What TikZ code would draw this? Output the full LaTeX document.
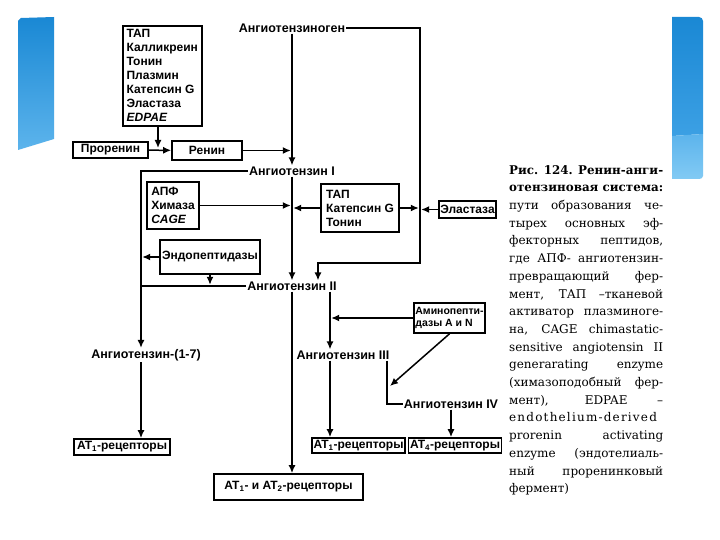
\documentclass[tikz,border=0pt]{standalone}
\usepackage{fontspec}
\usepackage{graphicx}
\setmainfont{Liberation Sans}
\newfontfamily\capfont{DejaVu Serif}
\usetikzlibrary{arrows.meta}
\definecolor{bltop}{RGB}{26,136,212}
\definecolor{blbot}{RGB}{92,180,236}
\definecolor{blmid}{RGB}{60,160,228}
\definecolor{bllow}{RGB}{130,202,244}
\newsavebox\jlbox
\newcommand\jl[1]{\sbox\jlbox{#1}\ifdim\wd\jlbox>154pt \resizebox{154pt}{\height}{\usebox\jlbox}\else\hbox to 154pt{\spaceskip=0.3em plus 1fil\relax #1}\fi}
\begin{document}
\begin{tikzpicture}[x=1pt,y=-1pt,
  box/.style={draw, line width=1.6pt, inner sep=1.5pt, font=\bfseries\fontsize{12}{14}\selectfont},
  lbl/.style={inner sep=1pt, font=\bfseries\fontsize{12.5}{14}\selectfont},
  thk/.style={line width=2.4pt},
  thn/.style={line width=1.5pt},
  arr/.style={-{Latex[length=8pt,width=7pt]}},
  sh/.style={shorten >=1.2pt}
]
\useasboundingbox[fill=white] (0,0) rectangle (720,540);
% blue decorations
\shade[top color=bltop, bottom color=blbot] (18,150) -- (18,21) -- (21,18) -- (54,17) -- (54,139) -- cycle;
\shade[top color=bltop, bottom color=blmid] (672,17) -- (699,17) to[out=0,in=90] (703,21) -- (703,134) -- (672,136) -- cycle;
\shade[top color=blbot, bottom color=bllow] (672,136) -- (703,134) -- (703,176) to[out=-90,in=0] (699,179) -- (672,179) -- cycle;
% nodes
\node[box, align=left, minimum width=79pt, minimum height=100pt, anchor=north west] (enz) at (122,25)
  {ТАП\\Калликреин\\Тонин\\Плазмин\\Катепсин G\\Эластаза\\\textit{EDPAE}};
\node[lbl] (agen) at (292,28) {Ангиотензиноген};
\node[box, minimum width=75pt, minimum height=16pt] (pro) at (110.5,150) {Проренин};
\node[box, minimum width=70pt, minimum height=19pt] (ren) at (207,150.5) {Ренин};
\node[lbl] (ang1) at (292,171) {Ангиотензин I};
\node[box, align=left, minimum width=52pt, minimum height=47pt] (apf) at (173,205.5) {АПФ\\Химаза\\\textit{CAGE}};
\node[box, align=left, minimum width=78pt, minimum height=48pt] (tap) at (360,208) {ТАП\\Катепсин G\\Тонин};
\node[box, minimum width=57pt, minimum height=17pt] (el) at (467.5,209.5) {Эластаза};
\node[box, minimum width=100pt, minimum height=34pt] (endo) at (210,257) {Эндопептидазы};
\node[lbl] (ang2) at (292,286) {Ангиотензин II};
\node[lbl] (a17) at (146,355) {Ангиотензин-(1-7)};
\node[lbl] (ang3) at (343,355) {Ангиотензин III};
\node[box, align=left, minimum width=71pt, minimum height=30pt, font=\bfseries\fontsize{10.5}{12.5}\selectfont] (am) at (449.5,318) {Аминопепти-\\дазы A и N};
\node[lbl] (ang4) at (451,404) {Ангиотензин IV};
\node[box, minimum width=96pt, minimum height=16pt] (at17) at (122,447) {AT\textsubscript{1}-рецепторы};
\node[box, minimum width=89pt, minimum height=15pt] (at1) at (358.5,445.5) {AT\textsubscript{1}-рецепторы};
\node[box, minimum width=86pt, minimum height=15pt] (at4) at (455,445.5) {AT\textsubscript{4}-рецепторы};
\node[box, minimum width=149pt, minimum height=26pt] (at12) at (288.5,487) {AT\textsubscript{1}- и AT\textsubscript{2}-рецепторы};
% helper coordinates
\coordinate (lft) at (141,0);
\coordinate (rr) at (420,0);
\coordinate (c2) at (318,263);
\coordinate (j1) at (158,148);
\coordinate (v3) at (330,0);
\coordinate (v4) at (387,0);
\coordinate (d1) at (390,386);
% connectors
\draw[thk,arr] (agen) -- (ang1);
\draw[thn,arr] (enz.south -| j1) -- (j1);
\draw[thn,arr] (pro) -- (ren);
\draw[thn,arr,sh] (ren) -- (ren -| agen);
\draw[thk,arr] (ang1.west) -- (ang1.west -| lft) -- (lft |- a17.north);
\draw[thn,arr,sh] (apf) -- (apf -| ang1);
\draw[thn,arr,sh] (tap) -- (tap -| ang1);
\draw[thn,arr,sh] (tap) -- (tap -| rr);
\draw[thn,arr,sh] (el) -- (el -| rr);
\draw[thn,arr] (agen.east) -| (rr |- c2) -- (c2) -- (c2 |- ang2.north);
\draw[thn,arr,sh] (endo) -- (endo -| lft);
\draw[thn,arr,sh] (endo.south) -- (endo.south |- ang2.west);
\draw[thk] (ang2.west) -- (ang2.west -| lft);
\draw[thk,arr] (ang1) -- (ang2);
\draw[thk,arr] (ang2.south) -- (ang2.south |- at12.north);
\draw[thk,arr] (ang2.south -| v3) -- (v3 |- ang3.north);
\draw[thn,arr,sh] (am) -- (am -| v3);
\draw[thn,arr] (am.south) -- (d1);
\draw[thn] (ang3.south -| v4) -- (v4 |- ang4.west) -- (ang4.west);
\draw[thn,arr] (ang4.south) -- (ang4.south |- at4.north);
\draw[thk,arr] (ang3.south -| v3) -- (v3 |- at1.north);
\draw[thk,arr] (a17.south -| lft) -- (lft |- at17.north);
% caption
\node[anchor=north west, inner sep=0pt, align=left, font=\capfont\fontsize{12}{17.7}\selectfont] (cap) at (509,165) {%
\jl{\textbf{Рис. 124. Ренин-анги-}}\\
\jl{\textbf{отензиновая система:}}\\
\jl{пути образования че-}\\
\jl{тырех основных эф-}\\
\jl{фекторных пептидов,}\\
\jl{где АПФ- ангиотензин-}\\
\jl{превращающий фер-}\\
\jl{мент, ТАП –тканевой}\\
\jl{активатор плазминоге-}\\
\jl{на, CAGE chimastatic-}\\
\jl{sensitive angiotensin II}\\
\jl{generarating enzyme}\\
\jl{(химазоподобный фер-}\\
\jl{мент), EDPAE –}\\
\jl{\addfontfeature{LetterSpace=10}endothelium-derived}\\
\jl{prorenin activating}\\
\jl{enzyme (эндотелиаль-}\\
\jl{ный проренинковый}\\
фермент)};
\end{tikzpicture}
\end{document}
